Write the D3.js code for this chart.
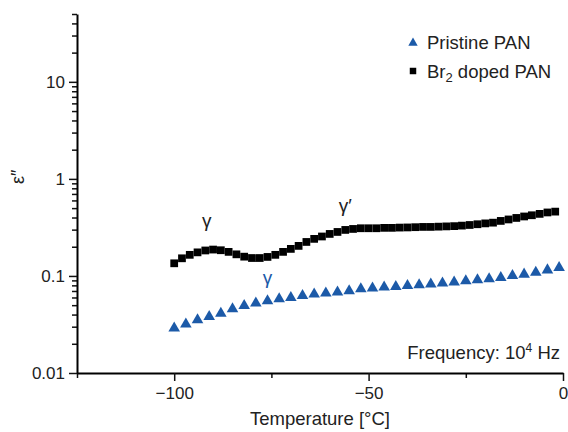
<!DOCTYPE html>
<meta charset="utf-8">
<head>
<title>Dielectric loss vs temperature</title>
<style>
  body { margin: 0; background: #fff; }
  text { font-family: "Liberation Sans", Arial, sans-serif; fill: #222; }
</style>
</head>
<body>
<div id="chart"></div>
<script src="https://cdn.jsdelivr.net/npm/d3@7"></script>
<script>
// Br2 doped PAN, every 2 degC from -100 to -2
var dopedTemp = [-100, -98, -96, -94, -92, -90, -88, -86, -84, -82, -80, -78, -76, -74, -72, -70, -68, -66, -64, -62,
                 -60, -58, -56, -54, -52, -50, -48, -46, -44, -42, -40, -38, -36, -34, -32, -30, -28, -26, -24, -22,
                 -20, -18, -16, -14, -12, -10, -8, -6, -4, -2];
var dopedEps = [0.135, 0.152, 0.165, 0.175, 0.183, 0.187, 0.184, 0.177, 0.167, 0.158, 0.153, 0.153, 0.157, 0.165, 0.177, 0.190, 0.204, 0.224, 0.241, 0.255,
                0.271, 0.284, 0.298, 0.305, 0.310, 0.310, 0.310, 0.313, 0.313, 0.315, 0.316, 0.318, 0.320, 0.320, 0.322, 0.324, 0.326, 0.330, 0.335, 0.341,
                0.348, 0.354, 0.369, 0.382, 0.396, 0.410, 0.422, 0.436, 0.451, 0.460];

// pristine PAN, every 3 degC from -100 to -1
var pristineTemp = [-100, -97, -94, -91, -88, -85, -82, -79, -76, -73, -70, -67, -64, -61, -58, -55, -52,
                    -49, -46, -43, -40, -37, -34, -31, -28, -25, -22, -19, -16, -13, -10, -7, -4, -1];
var pristineEps = [0.0289, 0.0318, 0.0352, 0.0381, 0.0412, 0.0457, 0.0494, 0.0523, 0.0553, 0.0579, 0.0598, 0.0627, 0.0648, 0.0664, 0.0679, 0.0700, 0.0735,
                   0.0747, 0.0765, 0.0776, 0.0794, 0.0808, 0.0821, 0.0841, 0.0861, 0.0888, 0.0909, 0.0931, 0.0961, 0.1007, 0.104, 0.109, 0.115, 0.122];

var xMajor = [-100, -50, 0];
var xMinor = [-125, -75, -25];
var yMajor = [0.01, 0.1, 1, 10];
var yLabels = ["0.01", "0.1", "1", "10"];

// gamma relaxation labels [temperature, eps, text, colour]
var peaks = [[-91.6, 0.32, "γ", "#222"], [-56, 0.455, "γ′", "#222"], [-76, 0.082, "γ", "#1c5aa8"]];

var blue = "#1c5aa8";

var margin = {top: 14, right: 5, bottom: 59, left: 77},
    width = 568 - margin.left - margin.right,
    height = 432 - margin.top - margin.bottom;

var svg = d3.select("#chart")
  .append("svg")
    .attr("width", 568)
    .attr("height", 432)
  .append("g")
    .attr("transform", "translate(" + margin.left + "," + margin.top + ")");

var x = d3.scaleLinear()
  .domain([-125, 0])
  .range([0, width]);

var y = d3.scaleLog()
  .domain([0.01, 50])
  .range([height, 0]);

// minor ticks 2..9 in every decade, up to 50
var yMinor = [];
[0.01, 0.1, 1, 10].forEach(function(d) {
  for (var k = 2; k <= 9; k++) if (d * k <= 50) yMinor.push(d * k);
});

// X axis
svg.append("g")
  .attr("transform", "translate(0," + height + ")")
  .call(d3.axisBottom(x).tickValues(xMinor).tickSize(5).tickFormat(""))
  .call(function(g) { g.select(".domain").remove(); });
var xAxis = svg.append("g")
  .attr("transform", "translate(0," + height + ")")
  .call(d3.axisBottom(x).tickValues(xMajor).tickSize(8).tickSizeOuter(0).tickPadding(6)
    .tickFormat(function(d) { return d < 0 ? "\u2212" + Math.abs(d) : d; }));

// Y axis
svg.append("g")
  .call(d3.axisLeft(y).tickValues(yMinor).tickSize(5).tickFormat(""))
  .call(function(g) { g.select(".domain").remove(); });
var yAxis = svg.append("g")
  .call(d3.axisLeft(y).tickValues(yMajor).tickSize(8).tickSizeOuter(0).tickPadding(4)
    .tickFormat(function(d, i) { return yLabels[i]; }));

svg.selectAll(".domain").attr("stroke-width", 2);
svg.selectAll(".tick line").attr("stroke-width", 1.5).attr("stroke", "#111");
xAxis.selectAll("text").style("font-size", "17px").style("font-family", "Liberation Sans, Arial, sans-serif").attr("fill", "#222");
yAxis.selectAll("text").style("font-size", "17px").style("font-family", "Liberation Sans, Arial, sans-serif").attr("fill", "#222");

// axis titles
svg.append("text")
  .attr("x", width / 2)
  .attr("y", height + 52)
  .attr("text-anchor", "middle")
  .style("font-size", "18.5px")
  .text("Temperature [°C]");

svg.append("text")
  .attr("transform", "translate(" + (-53) + "," + y(1.05) + ")rotate(-90)")
  .attr("text-anchor", "middle")
  .style("font-size", "18px")
  .text("ε″");

// doped series (squares)
var sq = d3.symbol().type(d3.symbolSquare).size(60);
svg.selectAll("dopedPts")
  .data(dopedTemp)
  .enter()
  .append("path")
    .attr("d", sq)
    .attr("transform", function(d, i) { return "translate(" + x(d) + "," + y(dopedEps[i]) + ")"; })
    .attr("fill", "#000");

// pristine series (triangles)
var tri = d3.symbol().type(d3.symbolTriangle).size(58);
svg.selectAll("pristinePts")
  .data(pristineTemp)
  .enter()
  .append("path")
    .attr("d", tri)
    .attr("transform", function(d, i) { return "translate(" + x(d) + "," + y(pristineEps[i]) + ")"; })
    .attr("fill", blue);

// gamma labels
svg.selectAll("peakText")
  .data(peaks)
  .enter()
  .append("text")
    .attr("x", function(d) { return x(d[0]); })
    .attr("y", function(d) { return y(d[1]); })
    .attr("text-anchor", "middle")
    .style("font-size", "19px")
    .style("fill", function(d) { return d[3]; })
    .text(function(d) { return d[2]; });

// legend
var legend = svg.append("g").attr("transform", "translate(" + (413 - margin.left) + "," + (43 - margin.top) + ")");
legend.append("path")
  .attr("d", d3.symbol().type(d3.symbolTriangle).size(38))
  .attr("fill", blue);
legend.append("text")
  .attr("x", 14).attr("y", 6)
  .style("font-size", "18.5px")
  .text("Pristine PAN");
legend.append("path")
  .attr("d", d3.symbol().type(d3.symbolSquare).size(42))
  .attr("transform", "translate(0,28)")
  .attr("fill", "#000");
var brText = legend.append("text")
  .attr("x", 14).attr("y", 35)
  .style("font-size", "18.5px");
brText.append("tspan").text("Br");
brText.append("tspan").attr("dy", 4).style("font-size", "13px").text("2");
brText.append("tspan").attr("dy", -4).text(" doped PAN");

// frequency note
var freq = svg.append("text")
  .attr("x", width - 3)
  .attr("y", height - 14)
  .attr("text-anchor", "end")
  .style("font-size", "18.5px");
freq.append("tspan").text("Frequency: 10");
freq.append("tspan").attr("dy", -7).style("font-size", "12px").text("4");
freq.append("tspan").attr("dy", 7).text(" Hz");
</script>
</body>
